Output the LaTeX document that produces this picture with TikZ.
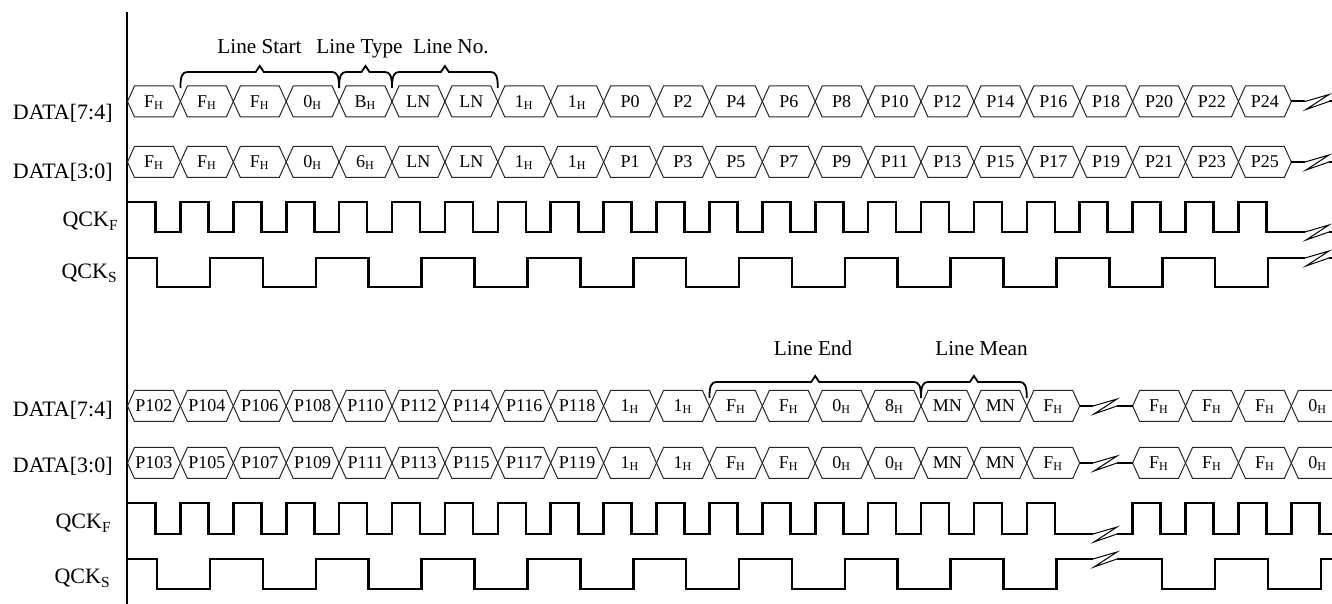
\documentclass[tikz,border=0pt]{standalone}
\usepackage{fontspec}
\setmainfont{Liberation Serif}
\usepackage{tikz}

\newcommand{\hx}[1]{#1\textsubscript{H}}
% one row of data cells: #1 name, #2 centre line, #3 first slot, #4 contents
\newcommand{\datarow}[4]{%
  \foreach \lbl [count=\i from #3] in {#4} {
    \pgfmathsetmacro{\xl}{127.5+52.9*\i}
    \draw[cell] (\xl,#2) -- ++(7,15.5) -- ++(38.9,0) -- ++(7,-15.5)
      -- ++(-7,-15.5) -- ++(-38.9,0) -- cycle;
    \node[celltext] (#1-\i) at (\xl+26.45,#2-6) {\lbl};
  }}
% break mark on a signal line
\newcommand{\sigbreak}[2]{\draw[brk] (#1,#2) -- ++(24,7) -- ++(-23,-15) -- ++(23,8);}
% brace over some cells: #1 left, #2 right, #3 foot, #4 tip
\newcommand{\cellbrace}[4]{%
  \draw[grpbrace] (#1,#3) .. controls (#1,#3+12) and (#1+2,#3+16) .. (#1+7,#3+16)
    -- (#4-4,#3+16) -- (#4,#3+22) -- (#4+4,#3+16) -- (#2-7,#3+16)
    .. controls (#2-2,#3+16) and (#2,#3+12) .. (#2,#3);}

\begin{document}
\begin{tikzpicture}[x=0.5pt,y=0.5pt,
  cell/.style={line width=0.5pt, draw=black!85},
  celltext/.style={font=\fontsize{9}{10}\selectfont, inner sep=0pt, anchor=base},
  sig/.style={font=\fontsize{11}{12}\selectfont, inner sep=0pt, anchor=base east},
  note/.style={font=\fontsize{10.6}{12}\selectfont, inner sep=0pt, anchor=base},
  clk/.style={line width=1.3pt},
  wire/.style={line width=1pt},
  brk/.style={line width=0.5pt},
  grpbrace/.style={line width=0.9pt},
  timeaxis/.style={line width=1pt}]
  \useasboundingbox (0,0) rectangle (1332,604);

  \draw[timeaxis] (127,592) -- (127,0);

  % signal names
  \node[sig] (n-d74a) at (113,484) {DATA[7:4]};
  \node[sig] (n-d30a) at (113,425) {DATA[3:0]};
  \node[sig] (n-qfa) at (119,377) {QCK\textsubscript{F}};
  \node[sig] (n-qsa) at (118,325) {QCK\textsubscript{S}};
  \node[sig] (n-d74b) at (113,187) {DATA[7:4]};
  \node[sig] (n-d30b) at (113,131) {DATA[3:0]};
  \node[sig] (n-qfb) at (112,75) {QCK\textsubscript{F}};
  \node[sig] (n-qsb) at (111,20) {QCK\textsubscript{S}};

  % start of line
  \datarow{d74a}{502.5}{0}{\hx{F},\hx{F},\hx{F},\hx{0},\hx{B},LN,LN,\hx{1},\hx{1},P0,P2,P4,P6,P8,P10,P12,P14,P16,P18,P20,P22,P24}
  \datarow{d30a}{442}{0}{\hx{F},\hx{F},\hx{F},\hx{0},\hx{6},LN,LN,\hx{1},\hx{1},P1,P3,P5,P7,P9,P11,P13,P15,P17,P19,P21,P23,P25}
  \draw[wire] (1291.3,502.5) -- (1305,502.5); \sigbreak{1305}{502.5}
  \draw[wire] (1329,502.5) -- (1340,502.5);
  \draw[wire] (1291.3,442) -- (1305,442); \sigbreak{1305}{442}
  \draw[wire] (1329,442) -- (1340,442);

  \draw[clk] (127,402) foreach \i in {0,...,20} { -| ({155.5+52.9*\i},372) -| ({180.4+52.9*\i},402) }
    -| (1266.4,372) -- (1305,372);
  \sigbreak{1305}{372}
  \draw[wire] (1329,372) -- (1340,372);
  \draw[clk] (127,346) foreach \k in {0,...,10} { -| ({157+105.8*\k},317) -| ({210+105.8*\k},346) }
    -- (1305,346);
  \sigbreak{1305}{346}
  \draw[wire] (1329,346) -- (1340,346);

  \cellbrace{180.4}{339.1}{516}{259.75}
  \cellbrace{339.1}{392}{516}{365.5}
  \cellbrace{392}{497.8}{516}{444.9}
  \node[note] (t-start) at (259.5,550) {Line Start};
  \node[note] (t-type) at (359.5,550) {Line Type};
  \node[note] (t-no) at (451,550) {Line No.};

  % end of line
  \datarow{d74b}{198}{0}{P102,P104,P106,P108,P110,P112,P114,P116,P118,\hx{1},\hx{1},\hx{F},\hx{F},\hx{0},\hx{8},MN,MN,\hx{F}}
  \datarow{d74c}{198}{19}{\hx{F},\hx{F},\hx{F},\hx{0}}
  \datarow{d30b}{141}{0}{P103,P105,P107,P109,P111,P113,P115,P117,P119,\hx{1},\hx{1},\hx{F},\hx{F},\hx{0},\hx{0},MN,MN,\hx{F}}
  \datarow{d30c}{141}{19}{\hx{F},\hx{F},\hx{F},\hx{0}}
  \draw[wire] (1079.7,198) -- (1093,198); \sigbreak{1093}{198}
  \draw[wire] (1117,198) -- (1132.6,198);
  \draw[wire] (1079.7,141) -- (1093,141); \sigbreak{1093}{141}
  \draw[wire] (1117,141) -- (1132.6,141);

  \draw[clk] (127,101) foreach \i in {0,...,16} { -| ({155.5+52.9*\i},70) -| ({180.4+52.9*\i},101) }
    -| (1054.8,70) -- (1093,70);
  \sigbreak{1093}{70}
  \draw[clk] (1117,70) foreach \i in {18,...,21} { -| ({180.4+52.9*\i},101) -| ({155.5+52.9*(\i+1)},70) }
    -- (1340,70);
  \draw[clk] (127,45) foreach \k in {0,...,8} { -| ({157+105.8*\k},15) -| ({210+105.8*\k},45) }
    -- (1093,45);
  \sigbreak{1093}{45}
  \draw[clk] (1117,45) -| (1162,15) -| (1215,45) -| (1268,15) -| (1321,45) -- (1340,45);

  \cellbrace{709.4}{921}{206}{815.2}
  \cellbrace{921}{1026.8}{206}{973.9}
  \node[note] (t-end) at (813,248) {Line End};
  \node[note] (t-mean) at (981.5,248) {Line Mean};
\end{tikzpicture}
\end{document}
